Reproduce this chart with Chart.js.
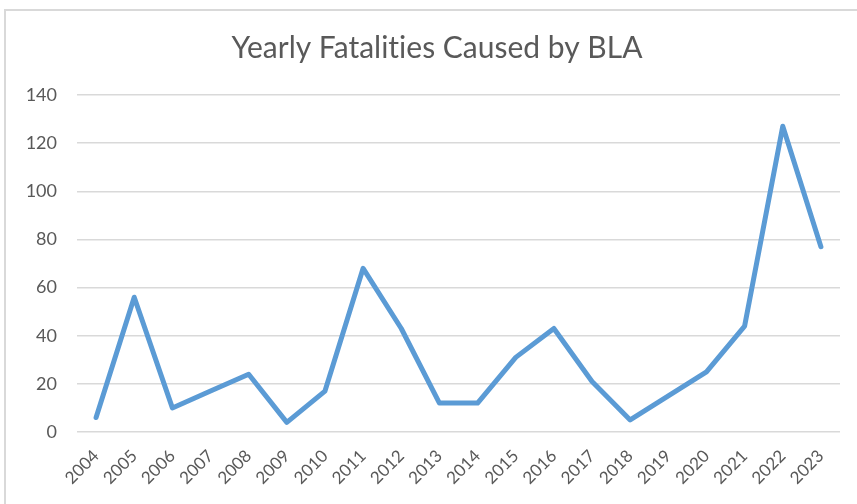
<!DOCTYPE html>
<html>
<head>
<meta charset="utf-8">
<script src="https://cdn.jsdelivr.net/npm/chart.js@4"></script>
<style>
  html, body { margin: 0; padding: 0; background: #fff; overflow: hidden; }
  #wrap { position: relative; width: 857px; height: 504px; overflow: hidden; }
  #frame {
    position: absolute; left: 4px; top: 9px; right: -10px; bottom: -10px;
    border-top: 2px solid #d9d9d9; border-left: 2px solid #d9d9d9;
  }
  canvas { position: absolute; left: 0; top: 0; }
</style>
</head>
<body>
<div id="wrap">
  <div id="frame"></div>
  <!-- canvas runs a little past the window so the title sits centred on the frame -->
  <canvas id="myChart" width="874" height="504"></canvas>
</div>
<script>
const years = ["2004", "2005", "2006", "2007", "2008", "2009", "2010", "2011", "2012", "2013",
  "2014", "2015", "2016", "2017", "2018", "2019", "2020", "2021", "2022", "2023"];
const fatalities = [6, 56, 10, 17, 24, 4, 17, 68, 43, 12, 12, 31, 43, 21, 5, 15, 25, 44, 127, 77];
const yTicks = [0, 20, 40, 60, 80, 100, 120, 140];
const chartTitle = "Yearly Fatalities Caused by BLA";

const ctx = document.getElementById("myChart");

// Lato joins "ti" into a ligature, turn that off
const noLigatures = {
  id: "noLigatures",
  beforeDraw: (chart) => {
    chart.ctx.textRendering = "optimizeSpeed";
    chart.ctx.fontVariantLigatures = "none";
  },
};

new Chart(ctx, {
  type: "line",
  plugins: [noLigatures],
  data: {
    labels: years,
    datasets: [
      {
        label: "Fatalities",
        data: fatalities,
        borderColor: "#5b9bd5",
        backgroundColor: "#5b9bd5",
        borderWidth: 5,
        borderCapStyle: "round",
        borderJoinStyle: "round",
        pointRadius: 0,
        tension: 0,
      },
    ],
  },
  options: {
    responsive: false,
    animation: false,
    layout: { padding: 0 },
    plugins: {
      legend: { display: false },
      tooltip: { enabled: false },
      title: {
        display: true,
        text: chartTitle,
        color: "#595959",
        font: { family: "Lato", size: 30, weight: "400" },
        padding: { top: 30, bottom: 29 },
      },
    },
    scales: {
      x: {
        offset: true,
        grid: { display: false, drawTicks: false },
        border: { display: false },
        ticks: {
          color: "#595959",
          font: { family: "Lato", size: 17 },
          minRotation: 45,
          maxRotation: 45,
          autoSkip: false,
          padding: 14,
        },
        afterFit: (s) => { s.height = 72; },
      },
      y: {
        min: 0,
        max: 140,
        afterBuildTicks: (s) => { s.ticks = yTicks.map((v) => ({ value: v })); },
        grid: { color: "#d9d9d9", lineWidth: 1.5, drawTicks: false },
        border: { display: false },
        ticks: {
          color: "#595959",
          font: { family: "Lato", size: 18 },
          padding: 20,
        },
        afterFit: (s) => { s.width = 77; },
      },
      // empty right axis, only reserves the space right of the plot
      spacer: {
        position: "right",
        min: 0,
        max: 140,
        grid: { display: false, drawTicks: false },
        border: { display: false },
        ticks: { display: false },
        afterFit: (s) => { s.width = 34; },
      },
    },
  },
});
</script>
</body>
</html>
